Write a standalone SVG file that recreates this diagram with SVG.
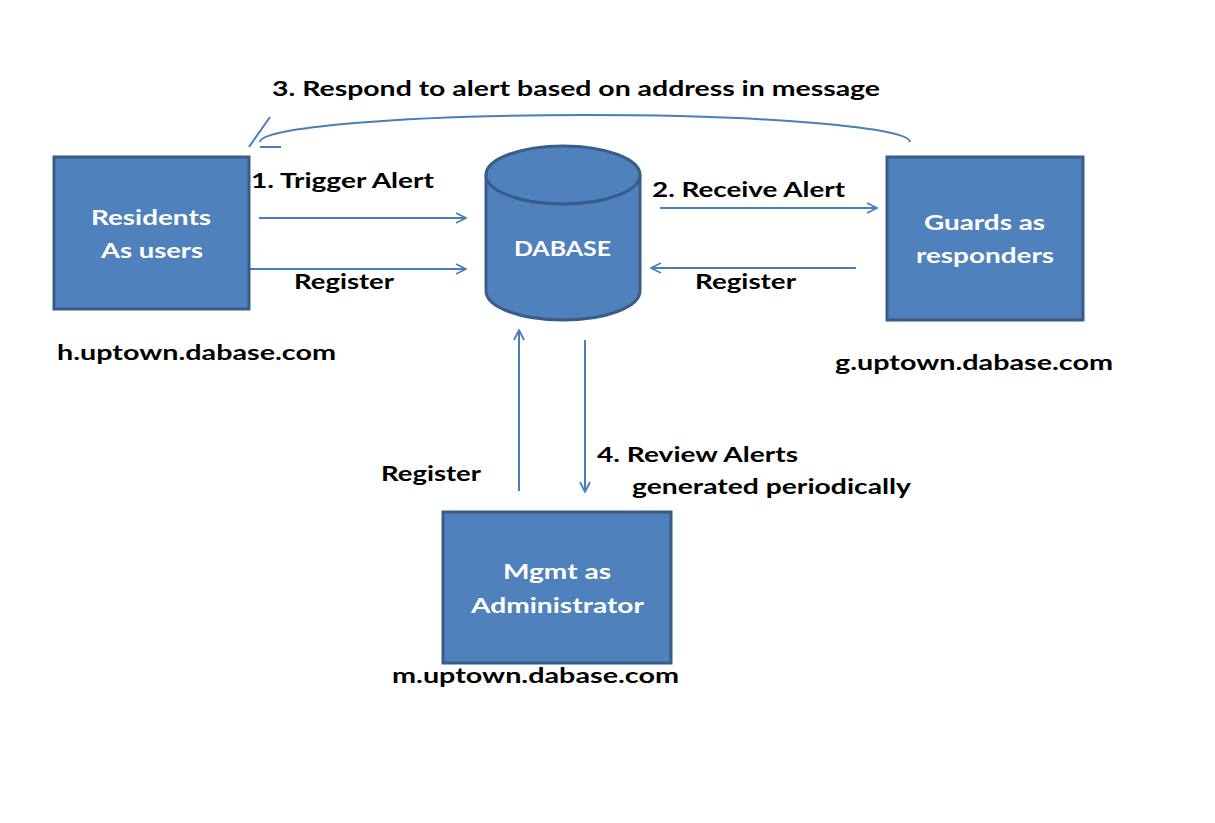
<svg xmlns="http://www.w3.org/2000/svg" width="1215" height="823" viewBox="0 0 1215 823">
<defs>
<marker id="arr" viewBox="0 0 12 12" refX="11" refY="6" markerWidth="12" markerHeight="12" markerUnits="userSpaceOnUse" orient="auto">
<path d="M1,1 L11,6 L1,11" fill="none" stroke="#4A7EBB" stroke-width="1.8"/>
</marker>
<style>
.box{fill:#4F81BD;stroke:#385D8A;stroke-width:3}
.lbl{font-family:Lato,"Open Sans","Liberation Sans",sans-serif;font-weight:bold;font-size:21px;fill:#000}
.in{font-family:Lato,"Open Sans","Liberation Sans",sans-serif;font-weight:bold;font-size:21px;fill:#fff}
.c{fill:none;stroke:#4A7EBB;stroke-width:2}
</style>
</defs>
<rect width="1215" height="823" fill="#fff"/>
<g id="connectors">
<line class="c" x1="259" y1="218" x2="466" y2="218" marker-end="url(#arr)"/>
<line class="c" x1="250" y1="269" x2="466" y2="269" marker-end="url(#arr)"/>
<line class="c" x1="660" y1="208" x2="877" y2="208" marker-end="url(#arr)"/>
<line class="c" x1="856" y1="268" x2="651" y2="268" marker-end="url(#arr)"/>
<line class="c" x1="519" y1="491" x2="519" y2="330" marker-end="url(#arr)"/>
<line class="c" x1="585" y1="340" x2="585" y2="492" marker-end="url(#arr)"/>
<path class="c" d="M260,142 A325,27 0 0 1 910,142"/>
<path class="c" d="M249,147 L270,117 M260,147 L281,147"/>
</g>
<g id="residents">
<rect class="box" x="54" y="157" width="195" height="152"/>
<text class="in" x="91" y="225" textLength="120" lengthAdjust="spacingAndGlyphs">Residents</text>
<text class="in" x="101" y="258" textLength="102" lengthAdjust="spacingAndGlyphs">As users</text>
</g>
<g id="database">
<path class="box" d="M486,175 L486,291 A77,29 0 0 0 640,291 L640,175"/>
<ellipse class="box" cx="563" cy="175" rx="77" ry="29"/>
<text class="in" x="514" y="256" textLength="97" lengthAdjust="spacingAndGlyphs">DABASE</text>
</g>
<g id="guards">
<rect class="box" x="887" y="157" width="196" height="163"/>
<text class="in" x="924" y="230" textLength="121" lengthAdjust="spacingAndGlyphs">Guards as</text>
<text class="in" x="916" y="263" textLength="138" lengthAdjust="spacingAndGlyphs">responders</text>
</g>
<g id="mgmt">
<rect class="box" x="443" y="512" width="228" height="151"/>
<text class="in" x="503" y="579" textLength="108" lengthAdjust="spacingAndGlyphs">Mgmt as</text>
<text class="in" x="471" y="613" textLength="173" lengthAdjust="spacingAndGlyphs">Administrator</text>
</g>
<g id="labels">
<text class="lbl" x="272" y="96" textLength="608" lengthAdjust="spacingAndGlyphs">3. Respond to alert based on address in message</text>
<text class="lbl" x="251" y="188" textLength="183" lengthAdjust="spacingAndGlyphs">1. Trigger Alert</text>
<text class="lbl" x="294" y="289" textLength="100" lengthAdjust="spacingAndGlyphs">Register</text>
<text class="lbl" x="652" y="197" textLength="193" lengthAdjust="spacingAndGlyphs">2. Receive Alert</text>
<text class="lbl" x="695" y="289" textLength="101" lengthAdjust="spacingAndGlyphs">Register</text>
<text class="lbl" x="57" y="360" textLength="279" lengthAdjust="spacingAndGlyphs">h.uptown.dabase.com</text>
<text class="lbl" x="835" y="370" textLength="278" lengthAdjust="spacingAndGlyphs">g.uptown.dabase.com</text>
<text class="lbl" x="381" y="481" textLength="100" lengthAdjust="spacingAndGlyphs">Register</text>
<text class="lbl" x="597" y="462" textLength="201" lengthAdjust="spacingAndGlyphs">4. Review Alerts</text>
<text class="lbl" x="632" y="494" textLength="279" lengthAdjust="spacingAndGlyphs">generated periodically</text>
<text class="lbl" x="392" y="683" textLength="287" lengthAdjust="spacingAndGlyphs">m.uptown.dabase.com</text>
</g>
</svg>
